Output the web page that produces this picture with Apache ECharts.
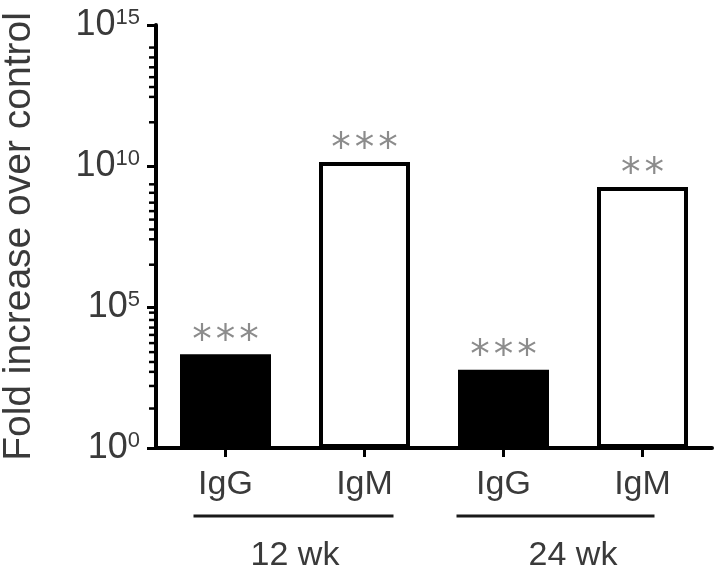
<!DOCTYPE html>
<html><head><meta charset="utf-8">
<script src="https://cdn.jsdelivr.net/npm/echarts@6/dist/echarts.min.js"></script>
<style>html,body{margin:0;padding:0;background:#fff}#c{width:720px;height:581px}</style>
</head><body><div id="c"></div>
<script>
// ---- data ----
const categories = ['IgG', 'IgM', 'IgG', 'IgM'];
const groups = ['12 wk', '24 wk'];
const groupMembers = [[0, 1], [2, 3]];
const foldIncrease = [2100, 1.4e10, 600, 1.8e9];
const barFill = ['#000000', '#ffffff', '#000000', '#ffffff'];
const significance = ['***', '***', '***', '**'];
const yMajorTicks = [1, 1e5, 1e10, 1e15];
const yMinorTickExponents = [1.4, 2.2, 2.7, 3.05, 3.4, 3.72, 4.01, 4.27, 4.54, 4.8,
                             6.5, 7.4, 7.75, 8.1, 8.4, 8.7, 9.05, 9.35,
                             11.55, 12.45, 12.8, 13.15, 13.5, 13.85, 14.2];
const yAxisTitle = 'Fold increase over control';

// ---- layout / style ----
const FONT = 'Liberation Sans, Arial, sans-serif';
const TXT = '#3a3a3a';
const chart = echarts.init(document.getElementById('c'), null, {renderer: 'canvas'});

chart.setOption({
  animation: false,
  backgroundColor: '#ffffff',
  grid: {left: 156, right: 8, top: 25, bottom: 133, containLabel: false, outerBoundsMode: 'none'},
  xAxis: [{
    type: 'category',
    data: categories,
    axisLine: {lineStyle: {color: '#000', width: 4}},
    axisTick: {show: true, alignWithLabel: true, length: 9, lineStyle: {color: '#000', width: 3}},
    axisLabel: {fontFamily: FONT, fontSize: 34, color: TXT, margin: 20}
  }, {
    type: 'category',
    data: groups,
    position: 'bottom',
    offset: 85,
    axisLine: {show: false},
    axisTick: {show: false},
    axisLabel: {fontFamily: FONT, fontSize: 34, color: TXT, margin: 6}
  }],
  yAxis: [{
    type: 'log',
    logBase: 10,
    min: yMajorTicks[0],
    max: yMajorTicks[yMajorTicks.length - 1],
    interval: 5,
    name: yAxisTitle,
    nameLocation: 'middle',
    nameGap: 117,
    nameTextStyle: {fontFamily: FONT, fontSize: 39, color: TXT},
    axisLine: {show: true, lineStyle: {color: '#000', width: 4}},
    axisTick: {show: true, length: 9, lineStyle: {color: '#000', width: 3}},
    splitLine: {show: false},
    axisLabel: {
      margin: 16,
      formatter: function (v) {
        const e = Math.round(Math.log10(v));
        return '{b|10}{s|' + e + '}';
      },
      rich: {
        b: {fontFamily: FONT, fontSize: 36, color: TXT, lineHeight: 36},
        s: {fontFamily: FONT, fontSize: 22, color: TXT, verticalAlign: 'top', lineHeight: 22}
      }
    }
  }],
  series: [{
    type: 'bar',
    xAxisIndex: 0,
    yAxisIndex: 0,
    barWidth: 91,
    data: foldIncrease.map((v, i) => ({
      value: v,
      itemStyle: {color: barFill[i], borderColor: '#000', borderWidth: 4}
    })),
    label: {
      show: true,
      position: 'top',
      distance: -7,
      fontFamily: 'DejaVu Sans, sans-serif',
      fontSize: 39,
      color: '#8c8c8c',
      formatter: p => significance[p.dataIndex].split('').join('\u200A')
    }
  }, {
    // minor ticks of the log axis, positioned by the axis scale
    type: 'custom',
    xAxisIndex: 0,
    yAxisIndex: 0,
    silent: true,
    clip: false,
    z: 10,
    encode: {x: 0, y: 1},
    data: yMinorTickExponents.map(e => [0, Math.pow(10, e)]),
    renderItem: function (params, api) {
      const pt = api.coord([api.value(0), api.value(1)]);
      const band = api.size([1, 0])[0];
      const x = pt[0] - band / 2;
      return {
        type: 'line',
        shape: {x1: x - 7, y1: pt[1], x2: x, y2: pt[1]},
        style: {stroke: '#000', lineWidth: 2.5}
      };
    }
  }]
});

// group underline bars, placed through the category axis scale
const baseY = chart.convertToPixel({yAxisIndex: 0}, yMajorTicks[0]);
const groupLineOffsets = [[-32, 29], [-47, 12]];
const graphics = groupMembers.map((m, i) => {
  const x1 = chart.convertToPixel({xAxisIndex: 0}, m[0]) + groupLineOffsets[i][0];
  const x2 = chart.convertToPixel({xAxisIndex: 0}, m[1]) + groupLineOffsets[i][1];
  return {
    type: 'line',
    shape: {x1: x1, y1: baseY + 68, x2: x2, y2: baseY + 68},
    style: {stroke: '#1a1a1a', lineWidth: 3}
  };
});
chart.setOption({graphic: graphics});
</script>
</body></html>
